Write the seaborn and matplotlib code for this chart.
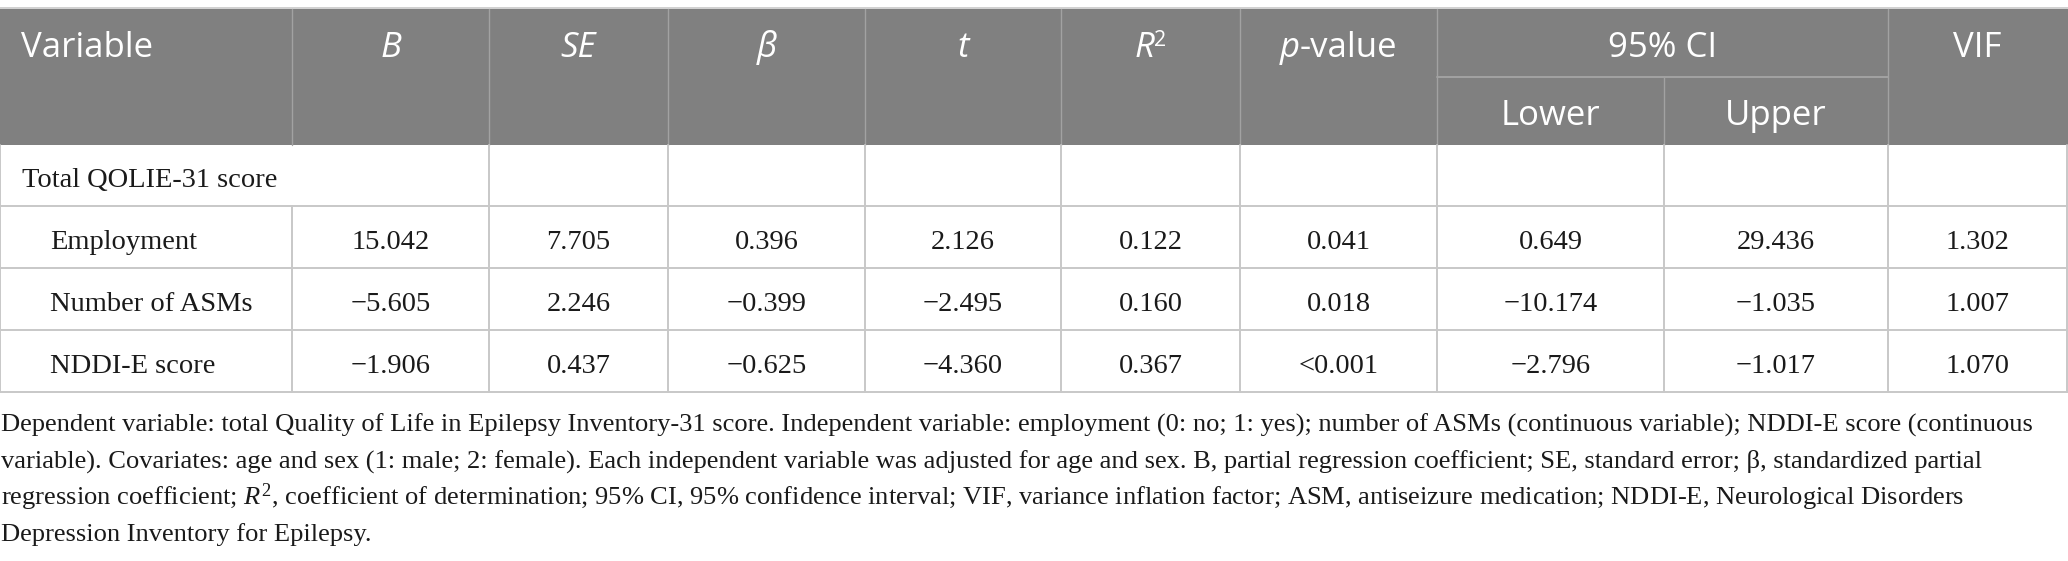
import matplotlib
matplotlib.use("Agg")
import matplotlib.pyplot as plt
import seaborn as sns
from matplotlib.patches import Rectangle

############################
# Table content
############################

header_labels = ["Variable", "B", "SE", "β", "t", "R", "p", "95% CI", "VIF"]
ci_labels = ["Lower", "Upper"]
group_label = "Total QOLIE-31 score"
variables = ["Employment", "Number of ASMs", "NDDI-E score"]

b_vals = [15.042, -5.605, -1.906]
se_vals = [7.705, 2.246, 0.437]
beta_vals = [0.396, -0.399, -0.625]
t_vals = [2.126, -2.495, -4.360]
r2_vals = [0.122, 0.160, 0.367]
p_vals = ["0.041", "0.018", "<0.001"]
lower_vals = [0.649, -10.174, -2.796]
upper_vals = [29.436, -1.035, -1.017]
vif_vals = [1.302, 1.007, 1.070]

footnote_lines = [
    "Dependent variable: total Quality of Life in Epilepsy Inventory-31 score. Independent variable: employment (0: no; 1: yes); number of ASMs (continuous variable); NDDI-E score (continuous",
    "variable). Covariates: age and sex (1: male; 2: female). Each independent variable was adjusted for age and sex. B, partial regression coefficient; SE, standard error; β, standardized partial",
    "regression coefficient; $R^2$, coefficient of determination; 95% CI, 95% confidence interval; VIF, variance inflation factor; ASM, antiseizure medication; NDDI-E, Neurological Disorders",
    "Depression Inventory for Epilepsy.",
]


def fmt(v):
    return f"{v:.3f}".replace("-", "\u2212")


############################
# Layout (pixel units)
############################

W, H = 2068, 561
col_edges = [0, 292, 489, 668, 865, 1061, 1240, 1437, 1664, 1888, 2067]
head_top, head_split, head_bottom = 9, 77, 145
row_edges = [145, 206, 268, 330, 392]

head_color = "#808080"
head_line = "#a2a2a2"
grid_color = "#c8c8c8"
text_color = "#1a1a1a"
sans = "Open Sans"
serif = "Liberation Serif"

sns.set_theme(style="white")
plt.rcParams["mathtext.fontset"] = "custom"
plt.rcParams["mathtext.rm"] = serif
plt.rcParams["mathtext.it"] = serif + ":italic"

fig = plt.figure(figsize=(W / 100, H / 100), dpi=100)
ax = fig.add_axes([0, 0, 1, 1])
ax.set_xlim(0, W)
ax.set_ylim(H, 0)
ax.axis("off")
renderer = fig.canvas.get_renderer()

# header background
ax.add_patch(Rectangle((0, head_top), W, head_bottom - head_top, color=head_color, lw=0))
ax.plot([0, W], [head_top - 1, head_top - 1], color=grid_color, lw=1.2)
for i, x in enumerate(col_edges[1:-1], start=1):
    y0 = head_split if i == 8 else head_top
    ax.plot([x, x], [y0, head_bottom], color=head_line, lw=1.0)
ax.plot([col_edges[7], col_edges[9]], [head_split, head_split], color=head_line, lw=1.4)

hs = 25
hy = 57
mid = [(col_edges[i] + col_edges[i + 1]) / 2 for i in range(len(col_edges) - 1)]


def pieces(x, y, parts):
    # centre several differently styled bits of text as one label
    widths = []
    for s, dy, kw in parts:
        t = ax.text(0, y, s, **kw)
        widths.append(t.get_window_extent(renderer).width)
        t.remove()
    x0 = x - sum(widths) / 2
    for (s, dy, kw), w in zip(parts, widths):
        ax.text(x0, y + dy, s, ha="left", **kw)
        x0 += w


hkw = dict(family=sans, size=hs, color="white", va="baseline")
ax.text(21, hy, header_labels[0], ha="left", **hkw)
for i in [1, 2, 3, 4]:
    ax.text(mid[i], hy, header_labels[i], ha="center", style="italic", **hkw)
pieces(mid[5], hy, [(header_labels[5], 0, dict(hkw, style="italic")),
                    ("2", -11, dict(hkw, size=hs * 0.62))])
pieces(mid[6], hy, [(header_labels[6], 0, dict(hkw, style="italic")), ("-value", 0, hkw)])
ax.text((col_edges[7] + col_edges[9]) / 2, hy, header_labels[7], ha="center", **hkw)
ax.text(mid[9], hy, header_labels[8], ha="center", **hkw)
for i, lab in zip([7, 8], ci_labels):
    ax.text(mid[i], 125, lab, ha="center", **hkw)

# body grid
for y in row_edges[1:]:
    ax.plot([0, W], [y, y], color=grid_color, lw=1.4)
for i, x in enumerate(col_edges):
    y0 = row_edges[1] if i == 1 else row_edges[0]
    ax.plot([x, x], [y0, row_edges[-1]], color=grid_color, lw=1.4)

bs = 20.5
bkw = dict(family=serif, size=bs, color=text_color, va="baseline")
base = [e - 19 for e in row_edges[1:]]
ax.text(22, base[0], group_label, ha="left", **bkw)

columns = [
    [fmt(v) for v in b_vals],
    [fmt(v) for v in se_vals],
    [fmt(v) for v in beta_vals],
    [fmt(v) for v in t_vals],
    [fmt(v) for v in r2_vals],
    p_vals,
    [fmt(v) for v in lower_vals],
    [fmt(v) for v in upper_vals],
    [fmt(v) for v in vif_vals],
]
for r, name in enumerate(variables):
    y = base[r + 1]
    ax.text(50, y, name, ha="left", **bkw)
    for c, col in enumerate(columns, start=1):
        ax.text(mid[c], y, col[r], ha="center", **bkw)

# footnote, shrunk so the widest line ends where the reference's does
fkw = dict(family=serif, color=text_color, va="baseline", ha="left")
probe = ax.text(0, 0, footnote_lines[0], size=bs, **fkw)
w0 = probe.get_window_extent(renderer).width
probe.remove()
fs = min(bs, bs * 2030 / w0)
for line, y in zip(footnote_lines, [432, 468, 505, 541]):
    ax.text(1, y, line, size=fs, **fkw)

fig.savefig("out.png", dpi=100)
